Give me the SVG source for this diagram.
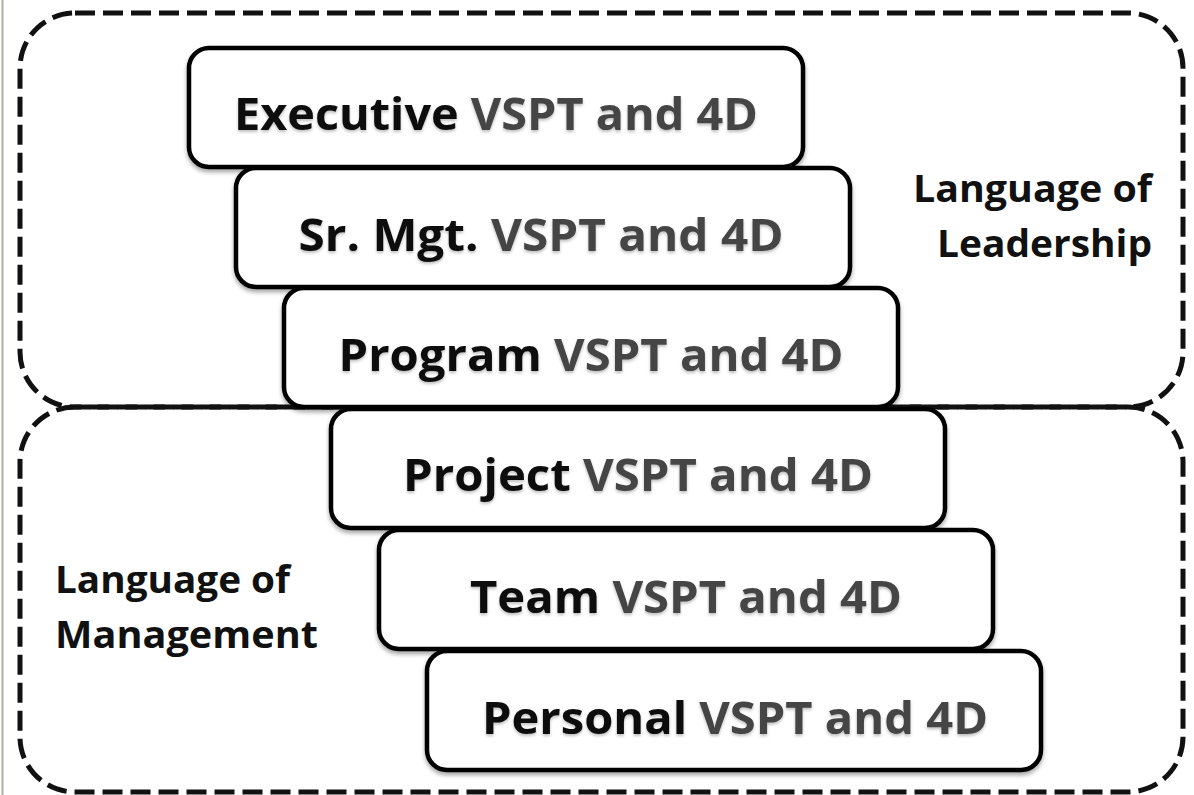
<svg xmlns="http://www.w3.org/2000/svg" width="1194" height="795" viewBox="0 0 1194 795">
  <defs>
    <filter id="soft" x="-5%" y="-10%" width="110%" height="125%">
      <feDropShadow dx="0" dy="3" stdDeviation="2" flood-color="#000" flood-opacity="0.35"/>
    </filter>
    <filter id="txtShadow" x="-5%" y="-20%" width="110%" height="140%">
      <feDropShadow dx="0" dy="2" stdDeviation="1.5" flood-color="#000" flood-opacity="0.25"/>
    </filter>
    <style>
      .zone { fill: none; stroke: #111; stroke-width: 5; stroke-dasharray: 20 8; }
      .box { fill: #fff; stroke: #000; stroke-width: 4.5; filter: url(#soft); }
      .lbl { font-family: "Open Sans", "Liberation Sans", sans-serif; font-weight: 700; font-size: 44px; text-anchor: middle; fill: #454545; filter: url(#txtShadow); }
      .lbl .lead { fill: #0d0d0d; }
      .side { font-family: "Open Sans", "Liberation Sans", sans-serif; font-weight: 700; font-size: 38px; fill: #111; }
    </style>
  </defs>

  <rect width="1194" height="795" fill="#fff"/>
  <!-- page edge rule -->
  <line x1="2.5" y1="0" x2="2.5" y2="795" stroke="#b2ad9d" stroke-width="2"/>

  <!-- language zones -->
  <g id="zone-leadership">
    <rect class="zone" x="20" y="13" width="1163" height="394" rx="55" ry="55"/>
    <text class="side" text-anchor="end" x="1152" y="202" textLength="239" lengthAdjust="spacingAndGlyphs">Language of</text>
    <text class="side" text-anchor="end" x="1152" y="257" textLength="215" lengthAdjust="spacingAndGlyphs">Leadership</text>
  </g>
  <g id="zone-management">
    <rect class="zone" x="20" y="407" width="1163" height="385" rx="55" ry="55" stroke-dashoffset="14"/>
    <text class="side" x="55" y="593" textLength="235" lengthAdjust="spacingAndGlyphs">Language of</text>
    <text class="side" x="55" y="648" textLength="263" lengthAdjust="spacingAndGlyphs">Management</text>
  </g>

  <!-- stacked levels -->
  <g id="executive">
    <rect class="box" x="189" y="48" width="614" height="119" rx="20"/>
    <text class="lbl" x="496" y="130" textLength="524" lengthAdjust="spacingAndGlyphs"><tspan class="lead">Executive</tspan> VSPT and 4D</text>
  </g>
  <g id="sr-mgt">
    <rect class="box" x="236" y="168" width="614" height="119" rx="20"/>
    <text class="lbl" x="541" y="251" textLength="485" lengthAdjust="spacingAndGlyphs"><tspan class="lead">Sr. Mgt.</tspan> VSPT and 4D</text>
  </g>
  <g id="program">
    <rect class="box" x="284" y="288" width="614" height="119" rx="20"/>
    <text class="lbl" x="591" y="371" textLength="505" lengthAdjust="spacingAndGlyphs"><tspan class="lead">Program</tspan> VSPT and 4D</text>
  </g>
  <g id="project">
    <rect class="box" x="331" y="409" width="614" height="119" rx="20"/>
    <text class="lbl" x="638" y="491" textLength="470" lengthAdjust="spacingAndGlyphs"><tspan class="lead">Project</tspan> VSPT and 4D</text>
  </g>
  <g id="team">
    <rect class="box" x="379" y="530" width="614" height="119" rx="20"/>
    <text class="lbl" x="686" y="613" textLength="432" lengthAdjust="spacingAndGlyphs"><tspan class="lead">Team</tspan> VSPT and 4D</text>
  </g>
  <g id="personal">
    <rect class="box" x="427" y="651" width="614" height="119" rx="20"/>
    <text class="lbl" x="735" y="734" textLength="506" lengthAdjust="spacingAndGlyphs"><tspan class="lead">Personal</tspan> VSPT and 4D</text>
  </g>

  <g id="connectors"/>
</svg>
